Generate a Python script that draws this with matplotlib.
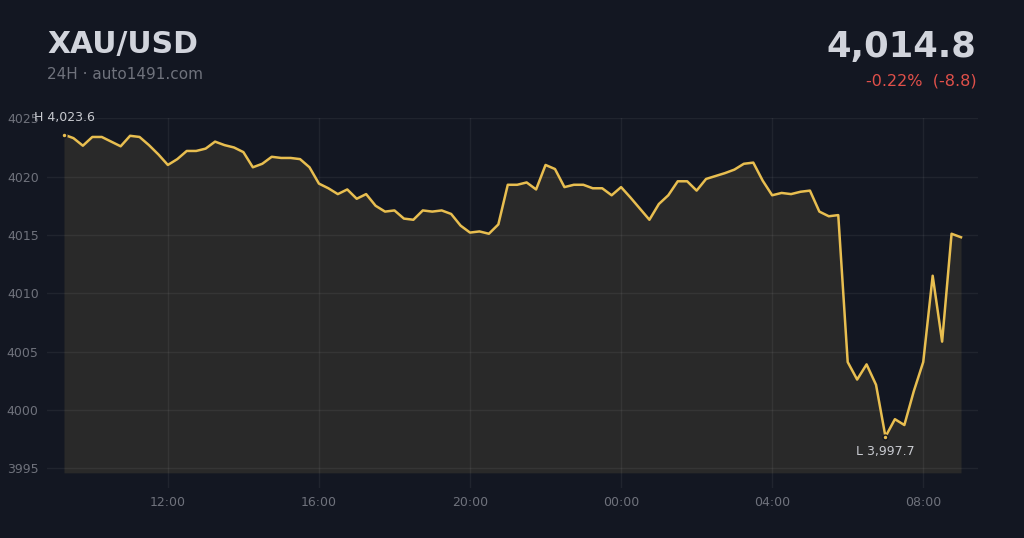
import numpy as np
import pandas as pd
import matplotlib
matplotlib.use("Agg")
import matplotlib.pyplot as plt
import matplotlib.dates as mdates

# ---- data ----
symbol = "XAU/USD"
subtitle = "24H · auto1491.com"
start_time = "2025-01-01 09:15"
interval = "15min"
prices = [
    4023.6, 4023.3, 4022.65, 4023.4, 4023.4, 4023.0, 4022.6, 4023.5, 4023.4, 4022.7,
    4021.9, 4021.0, 4021.5, 4022.2, 4022.2, 4022.4, 4023.0, 4022.7, 4022.5, 4022.1,
    4020.8, 4021.1, 4021.7, 4021.6, 4021.6, 4021.5, 4020.8, 4019.4, 4019.0, 4018.5,
    4018.9, 4018.1, 4018.5, 4017.5, 4017.0, 4017.1, 4016.4, 4016.3, 4017.1, 4017.0,
    4017.1, 4016.8, 4015.8, 4015.2, 4015.3, 4015.1, 4015.9, 4019.3, 4019.3, 4019.5,
    4018.9, 4021.0, 4020.65, 4019.1, 4019.3, 4019.3, 4019.0, 4019.0, 4018.4, 4019.1,
    4018.2, 4017.25, 4016.3, 4017.65, 4018.4, 4019.6, 4019.6, 4018.8, 4019.8, 4020.05,
    4020.3, 4020.6, 4021.1, 4021.2, 4019.65, 4018.4, 4018.6, 4018.5, 4018.7, 4018.8,
    4017.0, 4016.6, 4016.7, 4004.1, 4002.6, 4003.9, 4002.15, 3997.7, 3999.2, 3998.7,
    4001.6, 4004.1, 4011.5, 4005.85, 4015.1, 4014.8,
]
y_ticks = [3995, 4000, 4005, 4010, 4015, 4020, 4025]
fill_base = 3994.6

# ---- style ----
BG = "#131722"
FILL = "#292929"
LINE = "#e8be50"
TEXT = "#d1d4dc"
MUTED = "#6f727c"
RED = "#e0504a"

times = pd.date_range(start_time, periods=len(prices), freq=interval)
p = np.array(prices)

fig = plt.figure(figsize=(10.24, 5.38), dpi=100, facecolor=BG)
ax = fig.add_axes([47/1024, 1-488/538, (978-47)/1024, (488-118.3)/538])
ax.set_facecolor(BG)

ax.fill_between(times, p, fill_base, color=FILL, zorder=1, linewidth=0)
ax.plot(times, p, color=LINE, linewidth=1.8, zorder=3, solid_joinstyle="round")

pad = pd.Timedelta(minutes=27)
ax.set_xlim(times[0] - pad, times[-1] + pad)
ax.set_ylim(3993.3, 4025.0)
ax.set_yticks(y_ticks)
ax.set_yticklabels([str(v) for v in y_ticks])
ax.xaxis.set_major_locator(mdates.HourLocator(byhour=[0, 4, 8, 12, 16, 20]))
ax.xaxis.set_major_formatter(mdates.DateFormatter("%H:%M"))

ax.set_axisbelow(False)
ax.grid(True, color="white", alpha=0.06, linewidth=1.0, zorder=2)
for s in ax.spines.values():
    s.set_visible(False)
ax.tick_params(axis="both", length=0, colors=MUTED, labelsize=9)
ax.tick_params(axis="y", pad=6)
ax.tick_params(axis="x", pad=6)

# high / low markers
hi = int(np.argmax(p))
lo = int(np.argmin(p))
for idx in (hi, lo):
    ax.plot(times[idx], p[idx], marker="o", markersize=3.5, color=LINE,
            markeredgecolor=BG, markeredgewidth=1.0, zorder=4, clip_on=False)
ax.annotate(f"H {p[hi]:,.1f}", (times[hi], p[hi]), xytext=(0, 8),
            textcoords="offset points", ha="center", va="bottom",
            color="#c8cad0", fontsize=9, zorder=5, annotation_clip=False)
ax.annotate(f"L {p[lo]:,.1f}", (times[lo], p[lo]), xytext=(0, -6),
            textcoords="offset points", ha="center", va="top",
            color="#c8cad0", fontsize=9, zorder=5)

# header
last = p[-1]
chg = last - p[0]
pct = chg / p[0] * 100
fig.text(47/1024, 1-53/538, symbol, color=TEXT, fontsize=21.5,
         fontweight="bold", ha="left", va="baseline")
fig.text(47/1024, 1-79/538, subtitle, color=MUTED, fontsize=11,
         ha="left", va="baseline")
fig.text(976/1024, 1-57/538, f"{last:,.1f}", color=TEXT, fontsize=25.5,
         fontweight="bold", ha="right", va="baseline")
fig.text(977/1024, 1-86/538, f"{pct:+.2f}%  ({chg:+.1f})", color=RED,
         fontsize=11.5, ha="right", va="baseline")

fig.savefig("out.png", dpi=100, facecolor=BG)
